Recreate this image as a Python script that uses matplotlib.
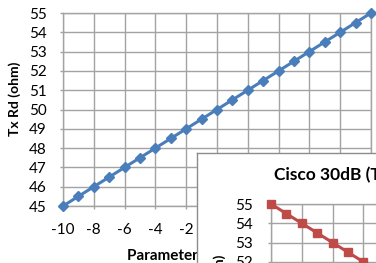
import matplotlib
matplotlib.use('Agg')
import matplotlib.pyplot as plt

plt.rcParams['font.family'] = ['Lato', 'DejaVu Sans']
plt.rcParams['axes.unicode_minus'] = False

x_values = [-10, -9, -8, -7, -6, -5, -4, -3, -2, -1, 0, 1, 2, 3, 4, 5, 6, 7, 8, 9, 10]
rd_main = [45, 45.5, 46, 46.5, 47, 47.5, 48, 48.5, 49, 49.5, 50,
           50.5, 51, 51.5, 52, 52.5, 53, 53.5, 54, 54.5, 55]
rd_cisco = [55, 54.5, 54, 53.5, 53, 52.5, 52, 51.5, 51, 50.5, 50,
            49.5, 49, 48.5, 48, 47.5, 47, 46.5, 46, 45.5, 45]
x_ticks = [-10, -8, -6, -4, -2, 0, 2, 4, 6, 8, 10]
y_ticks = [45, 46, 47, 48, 49, 50, 51, 52, 53, 54, 55]
y_label = 'Tx Rd (ohm)'
x_label = 'Parameter Setting'
inset_title = 'Cisco 30dB (Tx Rd)'

W, H = 376, 263
GRID = '#A3A3A3'
BLUE = '#4A7EBB'
RED = '#BE4B48'

fig = plt.figure(figsize=(W / 100, H / 100), dpi=100)
fig.patch.set_facecolor('white')


def px(x0, y_top, w, h):
    return [x0 / W, (H - y_top - h) / H, w / W, h / H]


def style(ax, ypad):
    ax.set_xlim(-10, 10)
    ax.set_ylim(45, 55)
    ax.set_xticks(x_ticks)
    ax.set_yticks(y_ticks)
    ax.grid(True, color=GRID, lw=1)
    ax.set_axisbelow(True)
    for s in ax.spines.values():
        s.set_color(GRID)
        s.set_linewidth(1)
    ax.tick_params(axis='both', colors=GRID, length=2.5, width=1,
                   labelsize=11, labelcolor='black')
    ax.tick_params(axis='y', pad=ypad)
    ax.tick_params(axis='x', pad=10)


# Main chart
ax1 = fig.add_axes(px(63, 13, 308, 193))
style(ax1, 9)
ax1.plot(x_values, rd_main, color=BLUE, lw=2.2, marker='D', ms=5,
         clip_on=False, zorder=3)
ax1.text(15 / W, (H - 99) / H, y_label, transform=fig.transFigure,
         rotation=90, ha='center', va='center', fontsize=10,
         fontweight='bold')
ax1.text(127 / W, (H - 260) / H, x_label, transform=fig.transFigure,
         ha='left', va='baseline', fontsize=11, fontweight='bold')

# Overlapping second chart frame
axf = fig.add_axes([197 / W, -0.5, 1.0, (H - 153) / H + 0.5], zorder=5)
axf.set_facecolor('white')
axf.set_xticks([])
axf.set_yticks([])
for s in axf.spines.values():
    s.set_color('#8C8C8C')
    s.set_linewidth(1)
axf.text(274 / W, (H - 175) / H, inset_title, transform=fig.transFigure,
         ha='left', va='center', fontsize=12.5, fontweight='bold')

ax2 = fig.add_axes(px(271, 204, 308, 193), zorder=6)
ax2.set_facecolor('none')
style(ax2, 10.5)
ax2.plot(x_values, rd_cisco, color=RED, lw=2.2, marker='s', ms=5.5,
         clip_on=False, zorder=3)
ax2.text(220 / W, (H - 292) / H, y_label, transform=fig.transFigure,
         rotation=90, ha='center', va='center', fontsize=10,
         fontweight='bold')

fig.savefig('out.png', dpi=100)
